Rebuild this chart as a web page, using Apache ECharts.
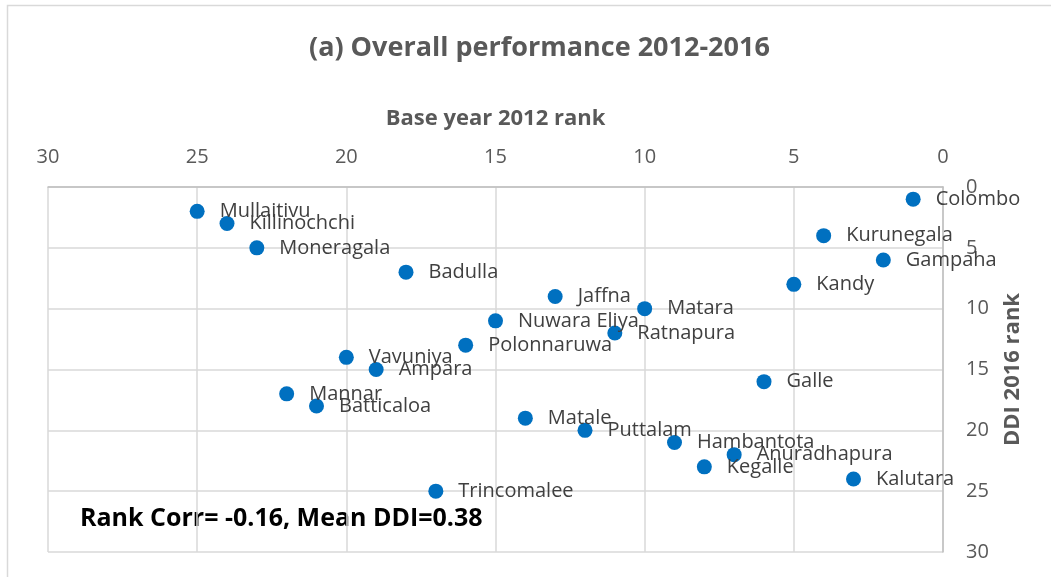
<!DOCTYPE html>
<html>
<head>
<meta charset="utf-8">
<script src="https://cdn.jsdelivr.net/npm/echarts@6/dist/echarts.min.js"></script>
<style>
  html, body { margin: 0; padding: 0; background: #fff; }
  #chart { width: 1051px; height: 577px; }
</style>
</head>
<body>
<div id="chart"></div>
<script>
// district names
var districts = ['Colombo', 'Kurunegala', 'Gampaha', 'Kandy', 'Galle', 'Kalutara',
    'Anuradhapura', 'Kegalle', 'Hambantota', 'Puttalam', 'Matale', 'Trincomalee',
    'Matara', 'Ratnapura', 'Jaffna', 'Nuwara Eliya', 'Polonnaruwa', 'Badulla',
    'Vavuniya', 'Ampara', 'Mannar', 'Batticaloa', 'Moneragala', 'Killinochchi', 'Mullaitivu'];

// base year 2012 rank (x)
var rank2012 = [1, 4, 2, 5, 6, 3, 7, 8, 9, 12, 14, 17, 10, 11, 13, 15, 16, 18, 20, 19, 22, 21, 23, 24, 25];

// DDI 2016 rank (y)
var rank2016 = [1, 4, 6, 8, 16, 24, 22, 23, 21, 20, 19, 25, 10, 12, 9, 11, 13, 7, 14, 15, 17, 18, 5, 3, 2];

var axisTicks = [0, 5, 10, 15, 20, 25, 30];

var myChart = echarts.init(document.getElementById('chart'));

var points = [];
for (var i = 0; i < districts.length; i++) {
    points.push({ name: districts[i], value: [rank2012[i], rank2016[i]] });
}

var font = 'Open Sans';

var option = {
    backgroundColor: '#fff',
    animation: false,
    title: {
        text: '(a) Overall performance 2012-2016',
        left: 304,
        top: 30,
        textStyle: { color: '#595959', fontSize: 27, fontWeight: 'bold', fontFamily: font }
    },
    graphic: [{
        // chart border (right and bottom sides are cut off)
        type: 'rect',
        shape: { x: 7.5, y: 5.5, width: 1100, height: 600 },
        style: { fill: 'none', stroke: '#d9d9d9', lineWidth: 1.5 },
        silent: true
    }, {
        type: 'text',
        left: 80,
        top: 506,
        style: {
            text: 'Rank Corr= -0.16, Mean DDI=0.38',
            fill: '#000', fontSize: 25, fontWeight: 'bold', fontFamily: font
        }
    }],
    grid: { left: 48, right: 108, top: 187, bottom: 25 },
    xAxis: {
        type: 'value',
        position: 'top',
        inverse: true,
        min: axisTicks[0],
        max: axisTicks[axisTicks.length - 1],
        interval: 5,
        name: 'Base year 2012 rank',
        nameLocation: 'middle',
        nameGap: 57,
        nameTextStyle: { color: '#595959', fontSize: 22, fontWeight: 'bold', fontFamily: font },
        axisLine: { show: true, lineStyle: { color: '#bfbfbf', width: 1.5 } },
        axisTick: { show: false },
        axisLabel: { color: '#595959', fontSize: 20, fontFamily: font, margin: 20 },
        splitLine: { show: true, lineStyle: { color: '#d9d9d9', width: 1.5 } }
    },
    yAxis: {
        type: 'value',
        position: 'right',
        inverse: true,
        min: axisTicks[0],
        max: axisTicks[axisTicks.length - 1],
        interval: 5,
        name: 'DDI 2016 rank',
        nameLocation: 'middle',
        nameRotate: 90,
        nameGap: 59,
        nameTextStyle: { color: '#595959', fontSize: 22, fontWeight: 'bold', fontFamily: font },
        axisLine: { show: true, lineStyle: { color: '#bfbfbf', width: 1.5 } },
        axisTick: { show: false },
        axisLabel: { color: '#595959', fontSize: 20, fontFamily: font, margin: 23 },
        splitLine: { show: true, lineStyle: { color: '#d9d9d9', width: 1.5 } }
    },
    series: [{
        type: 'scatter',
        symbolSize: 15,
        itemStyle: { color: '#0070c0', opacity: 1 },
        label: {
            show: true,
            position: 'right',
            distance: 15,
            formatter: '{b}',
            color: '#404040',
            fontSize: 20,
            fontFamily: font
        },
        data: points
    }]
};

myChart.setOption(option);
</script>
</body>
</html>
